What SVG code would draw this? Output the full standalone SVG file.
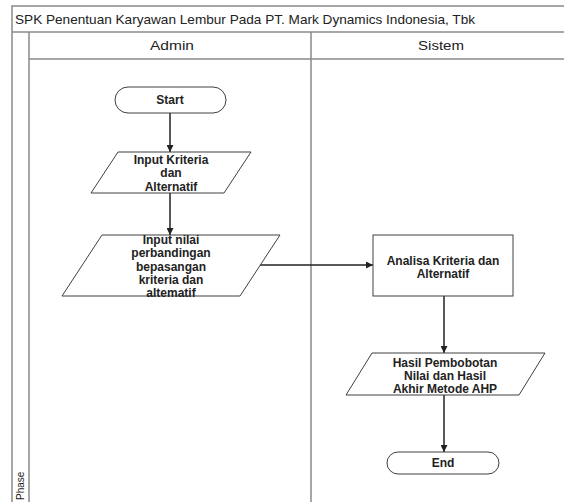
<svg xmlns="http://www.w3.org/2000/svg" width="564" height="502" viewBox="0 0 564 502">
<defs>
<style>
.frame{fill:none;stroke:#8a8a8a;stroke-width:1.5}
.shape{fill:#ffffff;stroke:#404040;stroke-width:1}
.conn{fill:none;stroke:#222222;stroke-width:1.5}
.t{font-family:"Liberation Sans",Arial,sans-serif;font-size:12px;font-weight:bold;fill:#222222;text-anchor:middle}
.h{font-family:"Liberation Sans",Arial,sans-serif;font-size:13px;fill:#222222;text-anchor:middle}
</style>
<marker id="arr" viewBox="0 0 10 10" refX="10" refY="5" markerWidth="7" markerHeight="7" markerUnits="userSpaceOnUse" orient="auto">
<path d="M0,0 L10,5 L0,10 z" fill="#222222"/>
</marker>
</defs>
<rect x="0" y="0" width="564" height="502" fill="#ffffff"/>
<g id="pool">
<path class="frame" d="M12,502 V6 H564 M12,32 H564 M29,32 V502 M29,59 H564 M311,32 V502"/>
<text x="15" y="24" font-family="Liberation Sans,Arial,sans-serif" font-size="13" fill="#222222" textLength="460" lengthAdjust="spacingAndGlyphs">SPK Penentuan Karyawan Lembur Pada PT. Mark Dynamics Indonesia, Tbk</text>
<text class="h" x="172" y="50" textLength="44" lengthAdjust="spacingAndGlyphs">Admin</text>
<text class="h" x="441" y="50" textLength="46" lengthAdjust="spacingAndGlyphs">Sistem</text>
<text transform="translate(24,500) rotate(-90)" font-family="Liberation Sans,Arial,sans-serif" font-size="10" fill="#222222">Phase</text>
</g>
<g id="connectors">
<line class="conn" x1="170" y1="113" x2="170" y2="152" marker-end="url(#arr)"/>
<line class="conn" x1="170" y1="193" x2="170" y2="235" marker-end="url(#arr)"/>
<line class="conn" x1="260" y1="265" x2="373" y2="265" marker-end="url(#arr)"/>
<line class="conn" x1="444" y1="296" x2="444" y2="353" marker-end="url(#arr)"/>
<line class="conn" x1="444" y1="395" x2="444" y2="452" marker-end="url(#arr)"/>
</g>
<g id="start">
<rect class="shape" x="115" y="87" width="111" height="26" rx="13" ry="13"/>
<text class="t" x="170" y="104">Start</text>
</g>
<g id="input-kriteria">
<polygon class="shape" points="118,152 251,152 224,193 91,193"/>
<text class="t" x="171" y="164">Input Kriteria</text>
<text class="t" x="171" y="177">dan</text>
<text class="t" x="171" y="191">Alternatif</text>
</g>
<g id="input-nilai">
<polygon class="shape" points="102,235 280,235 240,296 62,296"/>
<text class="t" x="171" y="244">Input nilai</text>
<text class="t" x="171" y="257">perbandingan</text>
<text class="t" x="171" y="271">bepasangan</text>
<text class="t" x="171" y="284">kriteria dan</text>
<text class="t" x="171" y="297">altematif</text>
</g>
<g id="analisa">
<rect class="shape" x="373" y="235" width="140" height="61"/>
<text class="t" x="443" y="265">Analisa Kriteria dan</text>
<text class="t" x="443" y="278">Alternatif</text>
</g>
<g id="hasil">
<polygon class="shape" points="372,353 545,353 519,395 346,395"/>
<text class="t" x="445" y="367">Hasil Pembobotan</text>
<text class="t" x="445" y="380">Nilai dan Hasil</text>
<text class="t" x="445" y="393">Akhir Metode AHP</text>
</g>
<g id="end">
<rect class="shape" x="387" y="452" width="112" height="22" rx="11" ry="11"/>
<text class="t" x="443" y="467">End</text>
</g>
</svg>
